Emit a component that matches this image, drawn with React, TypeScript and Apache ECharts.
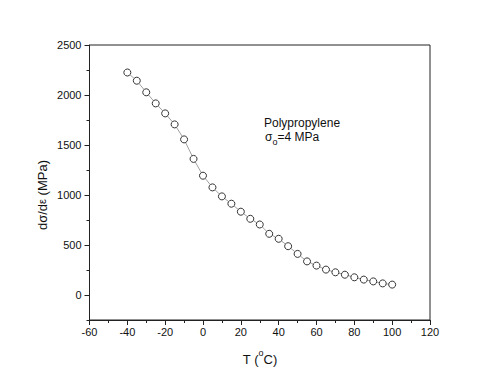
import React, { useEffect, useRef } from "react";
import * as echarts from "echarts";

const temperatures = [-40, -35, -30, -25, -20, -15, -10, -5, 0, 5, 10, 15, 20, 25, 30, 35, 40, 45, 50, 55, 60, 65, 70, 75, 80, 85, 90, 95, 100];
const modulus = [2225, 2143, 2027, 1916, 1816, 1706, 1556, 1361, 1193, 1076, 986, 913, 833, 762, 705, 612, 562, 488, 411, 336, 294, 254, 227, 203, 177, 154, 136, 116, 104];
const yMajorTicks = [0, 500, 1000, 1500, 2000, 2500];

const FONT = "Liberation Sans, Arial, sans-serif";

export default function App() {
  const ref = useRef<HTMLDivElement>(null);
  useEffect(() => {
    if (!ref.current) return;
    const chart = echarts.init(ref.current, undefined, { renderer: "svg" });
    const data = temperatures.map((t, i) => [t, modulus[i]]);
    chart.setOption({
      animation: false,
      backgroundColor: "#ffffff",
      grid: {
        left: 89.5,
        right: 70,
        top: 45,
        bottom: 63,
        show: true,
        borderColor: "#222",
        borderWidth: 1,
        backgroundColor: "transparent",
      },
      xAxis: {
        type: "value",
        min: -60,
        max: 120,
        interval: 20,
        axisLine: { show: true, onZero: false, lineStyle: { color: "#222", width: 1 } },
        axisTick: { show: true, inside: false, length: 5, lineStyle: { color: "#222" } },
        minorTick: { show: true, splitNumber: 2, length: 3, lineStyle: { color: "#222" } },
        splitLine: { show: false },
        axisLabel: { color: "#111", fontSize: 11, fontFamily: FONT, margin: 6 },
      },
      yAxis: [
        {
          type: "value",
          min: -250,
          max: 2500,
          interval: 250,
          axisLine: { show: true, onZero: false, lineStyle: { color: "#222", width: 1 } },
          axisTick: { show: true, inside: false, length: 3, lineStyle: { color: "#222" } },
          splitLine: { show: false },
          axisLabel: {
            color: "#111",
            fontSize: 11,
            fontFamily: FONT,
            margin: 8,
            formatter: (v: number) => (v % 500 === 0 ? String(v) : ""),
          },
        },
        {
          type: "value",
          min: -250,
          max: 2500,
          position: "left",
          axisLine: { show: false, onZero: false },
          axisTick: { show: true, inside: false, length: 5, customValues: yMajorTicks, lineStyle: { color: "#222" } },
          axisLabel: { show: false },
          splitLine: { show: false },
        },
      ],
      series: [
        {
          type: "line",
          data,
          yAxisIndex: 0,
          symbol: "circle",
          symbolSize: 7,
          showSymbol: true,
          lineStyle: { color: "#888", width: 0.8 },
          itemStyle: { color: "#ffffff", borderColor: "#333", borderWidth: 1 },
          z: 3,
        },
      ],
      graphic: [
        {
          type: "text",
          left: 264,
          top: 117,
          style: { text: "Polypropylene", fontSize: 12, fontFamily: FONT, fill: "#111" },
        },
        {
          type: "text",
          left: 265,
          top: 131,
          style: {
            text: "{a|σ}{b|o}{a|=4 MPa}",
            fontFamily: FONT,
            fill: "#111",
            rich: {
              a: { fontSize: 12, fontFamily: FONT, lineHeight: 18, verticalAlign: "middle", fill: "#111" },
              b: { fontSize: 9, fontFamily: FONT, lineHeight: 18, verticalAlign: "bottom", fill: "#111" },
            },
          },
        },
        {
          type: "text",
          x: 260,
          y: 357,
          style: {
            text: "{a|T (}{b|o}{a|C)}",
            align: "center",
            verticalAlign: "middle",
            fontFamily: FONT,
            fill: "#111",
            rich: {
              a: { fontSize: 13, fontFamily: FONT, lineHeight: 18, verticalAlign: "bottom", fill: "#111" },
              b: { fontSize: 9, fontFamily: FONT, lineHeight: 18, verticalAlign: "top", fill: "#111" },
            },
          },
        },
        {
          type: "text",
          x: 42,
          y: 195,
          rotation: Math.PI / 2,
          style: {
            text: "{a|dσ/d}{c|ε}{a| (MPa)}",
            align: "center",
            verticalAlign: "middle",
            fontFamily: FONT,
            fill: "#111",
            rich: {
              a: { fontSize: 13, fontFamily: FONT, lineHeight: 16, verticalAlign: "middle", fill: "#111" },
              c: { fontSize: 11, fontFamily: FONT, lineHeight: 16, verticalAlign: "middle", fill: "#111" },
            },
          },
        },
      ],
    });
    return () => chart.dispose();
  }, []);
  return <div ref={ref} style={{ width: 500, height: 383, position: "absolute", left: 0, top: 0 }} />;
}
